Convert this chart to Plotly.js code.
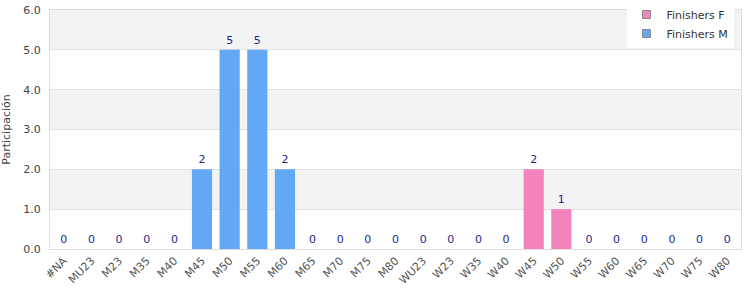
<!DOCTYPE html>
<html><head><meta charset="utf-8">
<script src="https://cdn.plot.ly/plotly-3.0.1.min.js"></script>
<style>body{margin:0;padding:0;background:#fff}#chart{width:750px;height:300px}</style>
</head><body><div id="chart"></div>
<script>
const categories = ["#NA","MU23","M23","M35","M40","M45","M50","M55","M60","M65","M70","M75","M80","WU23","W23","W35","W40","W45","W50","W55","W60","W65","W70","W75","W80"];
const finishersF = [null,null,null,null,null,null,null,null,null,null,null,null,null,0,0,0,0,2,1,0,0,0,0,0,0];
const finishersM = [0,0,0,0,0,2,5,5,2,0,0,0,0,null,null,null,null,null,null,null,null,null,null,null,null];
const yTicks = [0,1,2,3,4,5,6];
const colorF = "#f283bd", colorM = "#62a8f4";

function txt(a){return a.map(v => v===null ? "" : String(v));}
const common = {type:"bar", textposition:"outside", cliponaxis:false, showlegend:false,
  textfont:{family:"DejaVu Sans", size:11, color:"#1f1f8f"}, hoverinfo:"x+y"};
const traces = [
  Object.assign({}, common, {name:"Finishers F", x:categories, y:finishersF, text:txt(finishersF),
    marker:{color:colorF, line:{width:0}}}),
  Object.assign({}, common, {name:"Finishers M", x:categories, y:finishersM, text:txt(finishersM),
    marker:{color:colorM, line:{width:0}}}),
  {type:"scatter", mode:"markers", name:"Finishers F", x:[null], y:[null], showlegend:true,
    marker:{symbol:"square", size:8, color:colorF, line:{color:"#888", width:1}}},
  {type:"scatter", mode:"markers", name:"Finishers M", x:[null], y:[null], showlegend:true,
    marker:{symbol:"square", size:8, color:colorM, line:{color:"#888", width:1}}}
];
const shapes = [];
[[1,2],[3,4],[5,6]].forEach(b => shapes.push({type:"rect", xref:"paper", yref:"y", x0:0, x1:1, y0:b[0], y1:b[1],
  fillcolor:"#f3f3f3", line:{width:0}, layer:"below"}));
const layout = {
  width:750, height:300, margin:{l:50, r:9, t:10, b:51, autoexpand:false},
  paper_bgcolor:"#fff", plot_bgcolor:"#fff",
  barmode:"overlay", bargap:0.27,
  font:{family:"DejaVu Sans", size:11, color:"#444"},
  showlegend:true,
  legend:{xref:"container", yref:"container", x:0.978, xanchor:"right", y:1.005, yanchor:"top", bgcolor:"#fff",
    traceorder:"normal", font:{family:"DejaVu Sans", size:11, color:"#333"}, tracegroupgap:0,
    itemwidth:30, borderwidth:0},
  xaxis:{type:"category", tickangle:-45, showline:true, mirror:true, linecolor:"#dcdcdc", linewidth:1,
    ticks:"", tickfont:{family:"DejaVu Sans", size:11, color:"#555"}, fixedrange:true, automargin:false},
  yaxis:{range:[0,6], tickvals:yTicks, tickformat:".1f", showgrid:true, gridcolor:"#e2e2e2",
    showline:true, mirror:true, linecolor:"#dcdcdc", zeroline:false, ticks:"", automargin:false,
    ticklabelstandoff:6,
    tickfont:{family:"DejaVu Sans", size:11, color:"#444"},
    title:{text:"Participación", font:{family:"DejaVu Sans", size:11, color:"#444"}, standoff:14}},
  shapes:shapes
};
Plotly.newPlot("chart", traces, layout, {displayModeBar:false, staticPlot:true});
</script></body></html>
